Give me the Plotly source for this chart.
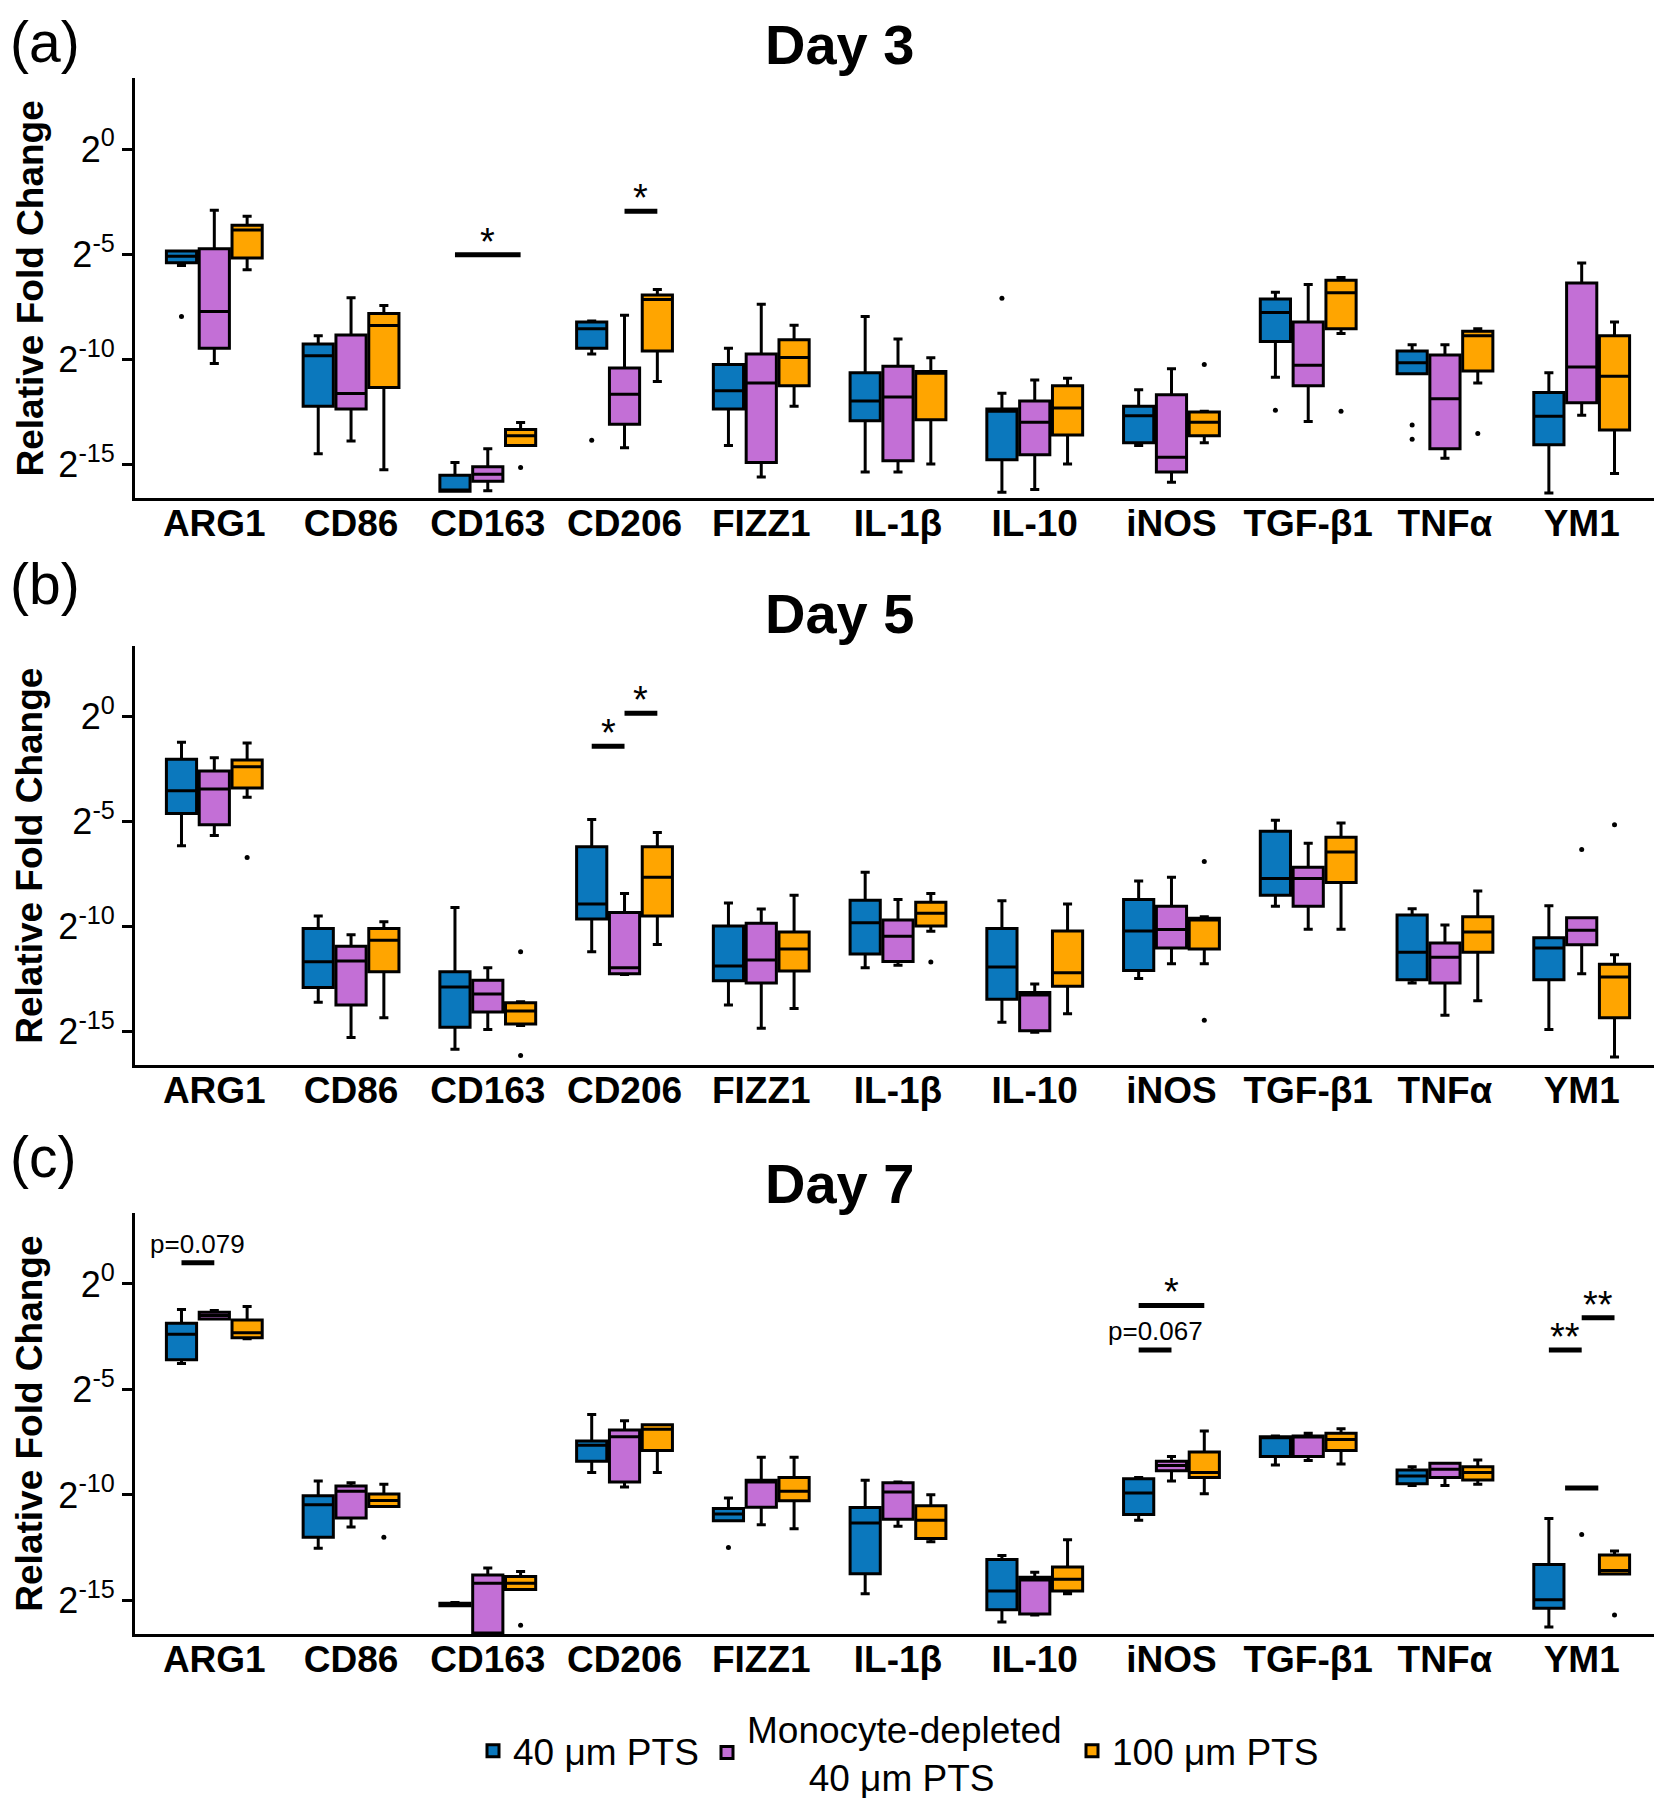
import plotly.graph_objects as go

# ---------------- data (log2 relative fold change) ----------------
GENES = ["ARG1", "CD86", "CD163", "CD206", "FIZZ1", "IL-1β", "IL-10",
         "iNOS", "TGF-β1", "TNFα", "YM1"]
NBSP = "\u00a0"
SERIES = ["40 μm PTS", "Monocyte-depleted<br>" + NBSP * 6 + "40 μm PTS", "100 μm PTS"]
DAYS = ["Day 3", "Day 5", "Day 7"]
PANEL_TAGS = ["(a)", "(b)", "(c)"]
Y_TICK_VALUES = [0, -5, -10, -15]
Y_TICK_TEXT = ["2<sup>0</sup>", "2<sup>-5</sup>", "2<sup>-10</sup>", "2<sup>-15</sup>"]

# each row: (lower whisker, Q1, median, Q3, upper whisker) per gene
DAY3_40UM = [(-5.53, -5.40, -5.10, -4.85, -4.85), (-14.48, -12.22, -9.82, -9.26, -8.87),
             (-16.26, -16.26, -16.20, -15.50, -14.89), (-9.74, -9.47, -8.54, -8.22, -8.17),
             (-14.08, -12.35, -11.49, -10.24, -9.47), (-15.34, -12.91, -11.97, -10.63, -7.96),
             (-16.31, -14.76, -12.46, -12.35, -11.60), (-14.08, -13.95, -12.67, -12.22, -11.44),
             (-10.84, -9.14, -7.77, -7.12, -6.80), (-10.68, -10.68, -10.16, -9.60, -9.30),
             (-16.34, -14.05, -12.70, -11.57, -10.63)]
DAY3_40UM_OUT = [[-7.96], [], [], [-13.83], [], [], [-7.09], [], [-12.41], [-13.11, -13.79], []]
DAY3_MONO = [(-10.19, -9.47, -7.72, -4.74, -2.91), (-13.87, -12.35, -11.62, -8.83, -7.07),
             (-16.23, -15.78, -15.45, -15.10, -14.24), (-14.19, -13.07, -11.65, -10.40, -7.90),
             (-15.58, -14.89, -11.12, -9.74, -7.38), (-15.34, -14.81, -11.78, -10.32, -9.03),
             (-16.18, -14.53, -12.98, -11.97, -10.97), (-15.83, -15.34, -14.64, -11.68, -10.44),
             (-12.94, -11.25, -10.27, -8.22, -6.44), (-14.69, -14.24, -11.86, -9.79, -9.30),
             (-12.65, -12.06, -10.36, -6.36, -5.42)]
DAY3_MONO_OUT = [[], [], [], [], [], [], [], [], [], [], []]
DAY3_100UM = [(-5.74, -5.18, -3.85, -3.62, -3.20), (-15.24, -11.33, -8.38, -7.82, -7.43),
              (-14.08, -14.08, -13.62, -13.32, -12.99), (-11.04, -9.60, -7.15, -6.93, -6.68),
              (-12.22, -11.25, -9.90, -9.06, -8.37), (-14.97, -12.86, -10.65, -10.57, -9.92),
              (-14.97, -13.59, -12.30, -11.25, -10.89), (-13.96, -13.62, -12.98, -12.49, -12.46),
              (-8.77, -8.54, -6.83, -6.23, -6.10), (-11.12, -10.55, -8.87, -8.66, -8.54),
              (-15.42, -13.35, -10.79, -8.87, -8.22)]
DAY3_100UM_OUT = [[], [], [-15.13], [], [], [], [], [-10.24], [-12.46], [-13.51], []]

DAY5_40UM = [(-6.15, -4.61, -3.52, -2.03, -1.22), (-13.60, -12.89, -11.67, -10.09, -9.49),
             (-15.84, -14.79, -12.87, -12.15, -9.08), (-11.19, -9.63, -8.92, -6.19, -4.90),
             (-13.73, -12.57, -11.87, -9.97, -8.87), (-11.95, -11.30, -9.81, -8.74, -7.41),
             (-14.55, -13.46, -11.92, -10.09, -8.76), (-12.47, -12.08, -10.20, -8.71, -7.82),
             (-9.03, -8.50, -7.70, -5.46, -4.93), (-12.68, -12.52, -11.22, -9.44, -9.15),
             (-14.90, -12.52, -11.01, -10.52, -9.00)]
DAY5_40UM_OUT = [[], [], [], [], [], [], [], [], [], [], []]
DAY5_MONO = [(-5.66, -5.14, -3.44, -2.58, -1.95), (-15.27, -13.73, -11.63, -10.93, -10.38),
             (-14.90, -14.06, -13.20, -12.55, -11.95), (-12.27, -12.24, -11.95, -9.32, -8.42),
             (-14.84, -12.68, -11.59, -9.84, -9.16), (-11.84, -11.66, -10.46, -9.68, -8.71),
             (-15.03, -14.95, -13.25, -13.13, -12.73), (-11.76, -11.01, -10.13, -9.03, -7.65),
             (-10.12, -9.03, -7.70, -7.17, -6.03), (-14.22, -12.68, -11.46, -10.78, -9.92),
             (-12.24, -10.86, -10.17, -9.57, -9.57)]
DAY5_MONO_OUT = [[], [], [], [], [], [], [], [], [], [], [-6.32]]
DAY5_100UM = [(-3.84, -3.39, -2.38, -2.06, -1.25), (-14.33, -12.15, -10.65, -10.09, -9.76),
              (-14.71, -14.63, -14.01, -13.62, -13.57), (-10.85, -9.49, -7.65, -6.19, -5.51),
              (-13.90, -12.11, -11.06, -10.25, -8.50), (-10.22, -9.97, -9.36, -8.84, -8.42),
              (-14.14, -12.84, -12.19, -10.20, -8.92), (-11.76, -11.06, -9.68, -9.60, -9.52),
              (-10.12, -7.90, -6.44, -5.74, -5.06), (-13.52, -11.22, -10.25, -9.52, -8.30),
              (-16.20, -14.33, -12.39, -11.79, -11.33)]
DAY5_100UM_OUT = [[-6.71], [], [-11.19, -16.13], [], [], [-11.68], [], [-6.89, -14.46], [], [], [-5.14]]

DAY7_40UM = [(-3.77, -3.60, -2.39, -1.87, -1.21), (-12.53, -12.01, -10.47, -10.04, -9.34),
             (-15.25, -15.25, -15.20, -15.13, -15.10), (-8.94, -8.40, -7.65, -7.45, -6.19),
             (-11.23, -11.23, -10.91, -10.64, -10.15), (-14.68, -13.74, -11.33, -10.60, -9.31),
             (-16.02, -15.44, -14.55, -13.06, -12.87), (-11.20, -10.93, -9.91, -9.23, -9.18),
             (-8.58, -8.18, -7.24, -7.24, -7.21), (-9.55, -9.47, -9.10, -8.82, -8.66),
             (-16.26, -15.37, -14.97, -13.30, -11.12)]
DAY7_40UM_OUT = [[], [], [], [], [-12.49], [], [], [], [], [], []]
DAY7_MONO = [(-1.66, -1.66, -1.50, -1.34, -1.26), (-11.52, -11.09, -9.83, -9.58, -9.42),
             (-16.60, -16.55, -14.19, -13.79, -13.46), (-9.62, -9.39, -7.24, -6.92, -6.48),
             (-11.41, -10.59, -9.39, -9.31, -8.21), (-11.49, -11.15, -9.86, -9.42, -9.39),
             (-15.69, -15.65, -14.03, -13.90, -13.67), (-9.34, -8.86, -8.61, -8.40, -8.18),
             (-8.37, -8.18, -7.24, -7.21, -7.08), (-9.55, -9.18, -8.78, -8.50, -8.50),
             (-9.72, -9.72, -9.67, -9.62, -9.62)]
DAY7_MONO_OUT = [[], [], [], [], [], [], [], [], [], [], [-11.88]]
DAY7_100UM = [(-2.60, -2.55, -2.31, -1.71, -1.07), (-10.55, -10.55, -10.26, -9.96, -9.50),
              (-14.48, -14.48, -14.19, -13.87, -13.63), (-8.94, -7.89, -6.89, -6.68, -6.68),
              (-11.60, -10.28, -9.83, -9.18, -8.21), (-12.22, -12.06, -11.20, -10.51, -9.99),
              (-14.68, -14.55, -14.00, -13.42, -12.12), (-9.94, -9.18, -8.94, -7.97, -6.97),
              (-8.53, -7.89, -7.37, -7.08, -6.87), (-9.50, -9.29, -8.94, -8.66, -8.34),
              (-13.75, -13.75, -13.58, -12.85, -12.66)]
DAY7_100UM_OUT = [[], [-12.01], [-16.18], [], [], [], [], [], [], [], [-15.69]]

# significance marks: (panel index, gene, series from, series to, log2 level, label)
SIGNIF = [
    (0, "CD163", 0, 2, -5.02, "*"),
    (0, "CD206", 1, 2, -2.96, "*"),
    (1, "CD206", 0, 1, -1.41, "*"),
    (1, "CD206", 1, 2, 0.16, "*"),
    (2, "ARG1", 0, 1, 1.0, "p=0.079"),
    (2, "iNOS", 0, 1, -3.13, "p=0.067"),
    (2, "iNOS", 0, 2, -1.02, "*"),
    (2, "YM1", 0, 1, -3.13, "**"),
    (2, "YM1", 1, 2, -1.60, "**"),
]

PANELS = [
    [(DAY3_40UM, DAY3_40UM_OUT), (DAY3_MONO, DAY3_MONO_OUT), (DAY3_100UM, DAY3_100UM_OUT)],
    [(DAY5_40UM, DAY5_40UM_OUT), (DAY5_MONO, DAY5_MONO_OUT), (DAY5_100UM, DAY5_100UM_OUT)],
    [(DAY7_40UM, DAY7_40UM_OUT), (DAY7_MONO, DAY7_MONO_OUT), (DAY7_100UM, DAY7_100UM_OUT)],
]

# ---------------- styling ----------------
COLORS = ["#0b78bd", "#c36fd6", "#ffa500"]
W, H = 1662, 1800
FONT = "Liberation Sans, Arial, sans-serif"
GROUP_GAP = 0.28          # fraction of a category slot left empty between groups
BOX_GAP = 0.08            # fraction of a box slot left empty between boxes
SLOT = (1 - GROUP_GAP) / 3.0
BOX_WIDTH = SLOT * (1 - BOX_GAP)

# panel geometry in pixels (top, bottom of plot area)
PANEL_PX = [(71, 494), (643, 1065), (1214, 1638)]
TITLE_PX = [37, 610, 1184]
TAG_PX = [34, 580, 1157]
X_LEFT, X_RIGHT = 127, 1653
LEGEND_X_PX = [465, 699, 1064]
LEGEND_Y_PX = [1756, 1758, 1756]
LEGEND_KEYS = ["legend", "legend2", "legend3"]


def px_x(v):
    return v / W


def px_y(v):
    return 1 - v / H


def pos(gene_index, series_index):
    """Centre of a box: category index shifted to its slot within the group."""
    return gene_index + (series_index - 1) * SLOT


fig = go.Figure()

for p, panel in enumerate(PANELS):
    xa = "x" if p == 0 else f"x{p + 1}"
    ya = "y" if p == 0 else f"y{p + 1}"
    for s, (stats, outs) in enumerate(panel):
        xs = [pos(i, s) for i in range(len(GENES))]
        fig.add_trace(go.Box(
            name=SERIES[s],
            legend=LEGEND_KEYS[s],
            legendgroup=SERIES[s],
            showlegend=(p == 0),
            x=xs,
            lowerfence=[r[0] for r in stats],
            q1=[r[1] for r in stats],
            median=[r[2] for r in stats],
            q3=[r[3] for r in stats],
            upperfence=[r[4] for r in stats],
            width=BOX_WIDTH,
            orientation="v",
            boxpoints=False,
            fillcolor=COLORS[s],
            line=dict(color="black", width=3),
            whiskerwidth=0.3,
            xaxis=xa,
            yaxis=ya,
            hoverinfo="skip",
        ))
        ox = [pos(i, s) for i, vals in enumerate(outs) for _ in vals]
        oy = [v for vals in outs for v in vals]
        fig.add_trace(go.Scatter(
            x=ox, y=oy, mode="markers",
            marker=dict(color="black", size=5),
            showlegend=False, legendgroup=SERIES[s], legend=LEGEND_KEYS[s],
            xaxis=xa, yaxis=ya, hoverinfo="skip",
        ))

layout_axes = {}
for p in range(3):
    top, bot = PANEL_PX[p]
    xkey = "xaxis" if p == 0 else f"xaxis{p + 1}"
    ykey = "yaxis" if p == 0 else f"yaxis{p + 1}"
    ya = "y" if p == 0 else f"y{p + 1}"
    xa = "x" if p == 0 else f"x{p + 1}"
    layout_axes[xkey] = dict(
        domain=[px_x(X_LEFT), px_x(X_RIGHT)],
        anchor=ya,
        range=[-0.58, len(GENES) - 1 + 0.58],
        tickvals=list(range(len(GENES))),
        ticktext=GENES,
        showline=True, linecolor="black", linewidth=3,
        ticks="", showgrid=False, zeroline=False,
        ticklabelstandoff=-10,
        tickfont=dict(family=FONT, size=37, color="black", weight="bold"),
    )
    layout_axes[ykey] = dict(
        domain=[px_y(bot), px_y(top)],
        anchor=xa,
        range=[-16.6, 3.35],
        tickvals=Y_TICK_VALUES,
        ticktext=Y_TICK_TEXT,
        showline=True, linecolor="black", linewidth=3,
        ticks="outside", ticklen=10, tickwidth=3, tickcolor="black",
        showgrid=False, zeroline=False,
        tickfont=dict(family=FONT, size=36, color="black"),
    )

fig.update_layout(**layout_axes)

annotations = []
shapes = []
for p in range(3):
    top, bot = PANEL_PX[p]
    annotations.append(dict(
        text=DAYS[p], xref="paper", yref="paper", x=0.5, y=px_y(TITLE_PX[p]),
        xanchor="center", yanchor="middle", showarrow=False,
        font=dict(family=FONT, size=56, color="black", weight="bold")))
    annotations.append(dict(
        text=PANEL_TAGS[p], xref="paper", yref="paper", x=0.0, y=px_y(TAG_PX[p]),
        xanchor="left", yanchor="middle", showarrow=False,
        font=dict(family=FONT, size=57, color="black")))
    annotations.append(dict(
        text="Relative Fold Change", xref="paper", yref="paper",
        x=px_x(22), y=px_y((top + bot) / 2), textangle=-90,
        xanchor="center", yanchor="middle", showarrow=False,
        font=dict(family=FONT, size=37, color="black", weight="bold")))

for (p, gene, s0, s1, level, label) in SIGNIF:
    xa = "x" if p == 0 else f"x{p + 1}"
    ya = "y" if p == 0 else f"y{p + 1}"
    gi = GENES.index(gene)
    x0 = pos(gi, s0)
    x1 = pos(gi, s1)
    shapes.append(dict(type="line", xref=xa, yref=ya, x0=x0, x1=x1, y0=level, y1=level,
                       line=dict(color="black", width=5)))
    is_star = label.startswith("*")
    annotations.append(dict(
        text=label, xref=xa, yref=ya, x=(x0 + x1) / 2, y=level,
        xanchor="center", yanchor="bottom", showarrow=False,
        yshift=-10 if is_star else 2,
        font=dict(family=FONT, size=38 if is_star else 26, color="black")))

legends = {}
for k, key in enumerate(LEGEND_KEYS):
    legends[key] = dict(
        orientation="h", x=px_x(LEGEND_X_PX[k]), xanchor="left",
        y=px_y(LEGEND_Y_PX[k]), yanchor="middle",
        font=dict(family=FONT, size=37, color="black"),
        itemwidth=30, bgcolor="rgba(0,0,0,0)", borderwidth=0)

fig.update_layout(
    width=W, height=H, autosize=False,
    margin=dict(l=0, r=0, t=0, b=0),
    paper_bgcolor="white", plot_bgcolor="white",
    boxmode="overlay",
    annotations=annotations, shapes=shapes,
    font=dict(family=FONT, color="black"),
    **legends,
)

fig.write_html("out.html")
